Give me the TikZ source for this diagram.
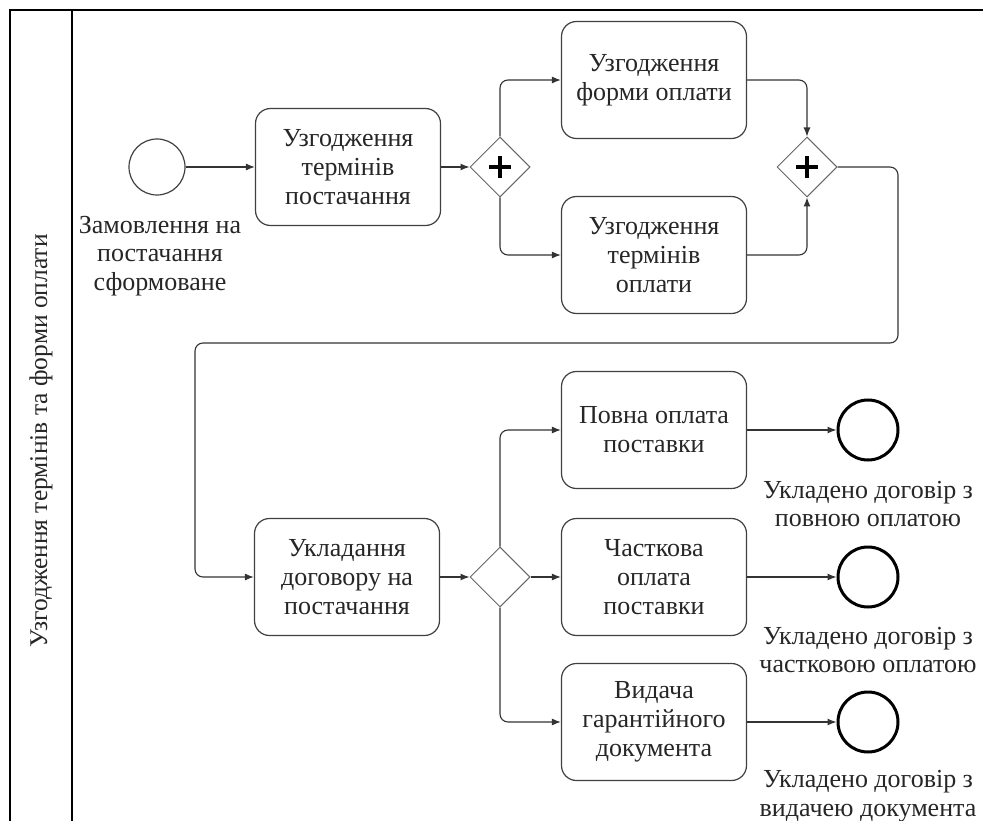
\documentclass[tikz,border=0pt]{standalone}
\usepackage{fontspec}
\setmainfont{Liberation Serif}
\usetikzlibrary{shapes.geometric,arrows.meta}
\begin{document}
\begin{tikzpicture}[x=1pt,y=-1pt,
 task/.style={draw=black!75, line width=1.2pt, rounded corners=15pt, minimum width=185pt, minimum height=117pt, align=center, font=\fontsize{26}{29}\selectfont, inner sep=0pt, text=black!85},
 gate/.style={draw=black!60, diamond, line width=1pt, minimum width=60pt, minimum height=60pt, inner sep=0pt},
 startev/.style={circle, draw=black!75, line width=1.2pt, minimum size=56pt, inner sep=0pt},
 endev/.style={circle, draw=black, line width=3pt, minimum size=60pt, inner sep=0pt},
 lbl/.style={align=center, font=\fontsize{26}{28.5}\selectfont, inner sep=0pt, text=black!85},
 flow/.style={draw=black!80, line width=1.1pt, -{Latex[length=9pt,width=7pt]}, rounded corners=8pt},
 plusmark/.style={line width=4.5pt, black},
 frame/.style={draw=black, line width=1.3pt},
]
\useasboundingbox (0,0) rectangle (983,821);
% pool frame
\draw[frame] (10,830) -- (10,10) -- (990,10);
\draw[frame] (72,10) -- (72,830);
\node[rotate=90, font=\fontsize{25.5}{28}\selectfont, text=black!85] (lane) at (41,441) {Узгодження термінів та форми оплати};

% nodes
\node[startev] (start) at (157,167) {};
\node[lbl] (startlbl) at (160,256) {Замовлення на\\постачання\\сформоване};
\node[task] (t1) at (348,167) {Узгодження\\термінів\\постачання};
\node[gate] (g1) at (500,167) {};
\node[task] (t2) at (654,80) {Узгодження\\форми оплати};
\node[task] (t3) at (654,255) {Узгодження\\термінів\\оплати};
\node[gate] (g2) at (807,167) {};
\node[task] (t4) at (347,577) {Укладання\\договору на\\постачання};
\node[gate] (g3) at (500,577) {};
\node[task] (t5) at (654,430) {Повна оплата\\поставки};
\node[task] (t6) at (654,577) {Часткова\\оплата\\поставки};
\node[task] (t7) at (654,722) {Видача\\гарантійного\\документа};
\node[endev] (e1) at (868,430) {};
\node[endev] (e2) at (868,577) {};
\node[endev] (e3) at (868,722) {};
\node[lbl] (l1) at (868,504) {Укладено договір з\\повною оплатою};
\node[lbl] (l2) at (868,650) {Укладено договір з\\частковою оплатою};
\node[lbl] (l3) at (868,796) {Укладено договір з\\видачею документа};

% plus marks
\foreach \g in {g1,g2}{
  \draw[plusmark] ([xshift=-11pt]\g.center) -- ([xshift=11pt]\g.center);
  \draw[plusmark] ([yshift=-11pt]\g.center) -- ([yshift=11pt]\g.center);
}

% flows
\coordinate (r1) at (898,343);
\coordinate (r2) at (195,343);
\draw[flow] (start) -- (t1);
\draw[flow] (t1) -- (g1);
\draw[flow] (g1.north) |- (t2.west);
\draw[flow] (g1.south) |- (t3.west);
\draw[flow] (t2.east) -| (g2.north);
\draw[flow] (t3.east) -| (g2.south);
\draw[flow] (g2.east) -| (r1) -- (r2) |- (t4.west);
\draw[flow] (t4) -- (g3);
\draw[flow] (g3.north) |- (t5.west);
\draw[flow] (g3) -- (t6);
\draw[flow] (g3.south) |- (t7.west);
\draw[flow] (t5) -- (e1);
\draw[flow] (t6) -- (e2);
\draw[flow] (t7) -- (e3);
\end{tikzpicture}
\end{document}
